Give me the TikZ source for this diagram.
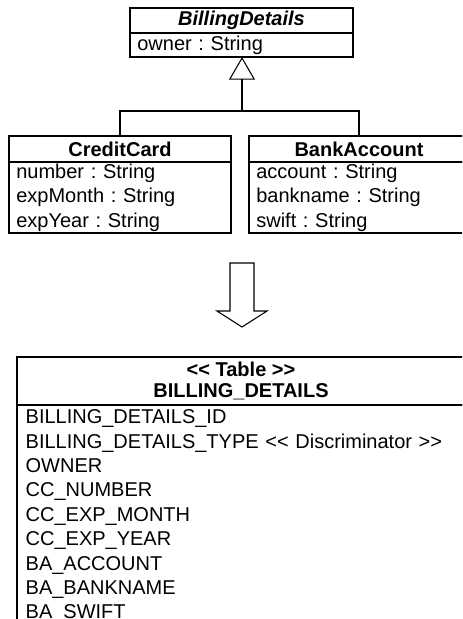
\documentclass[tikz,border=0pt]{standalone}
\usepackage{fontspec}
\setmainfont{Liberation Sans}
\usetikzlibrary{positioning, arrows.meta}
\frenchspacing

\begin{document}
\begin{tikzpicture}[x=0.75pt, y=-0.75pt, line width=0.8pt,
    every node/.style = {outer sep=0pt, font=\fontsize{15}{18.3}\selectfont},
    class name/.style = {draw, inner sep=0pt, minimum height=19.5pt,
      font=\fontsize{15}{18.3}\selectfont\bfseries},
    class attr/.style = {draw, align=left, inner xsep=5.5pt, inner ysep=0pt},
  ]
  \useasboundingbox (0,0) rectangle (462,619);
  \clip (0,0) rectangle (462,619);

  % class diagram
  \node[class name, minimum width=167.25pt, minimum height=18.75pt,
    font=\fontsize{15}{18.3}\selectfont\bfseries\itshape] (bd) at (241.5,20.5) {BillingDetails};
  \node[class attr, text width=156.25pt, minimum height=18pt, below=0pt of bd] (bd-attr) {owner : String};

  \node[class name, minimum width=166.5pt] (cc) at (120,149) {CreditCard};
  \node[class attr, text width=155.5pt, minimum height=53.25pt, below=0pt of cc] (cc-attr)
    {number : String\\ expMonth : String\\ expYear : String};

  \node[class name, minimum width=165pt] (ba) at (359,149) {BankAccount};
  \node[class attr, text width=154pt, minimum height=53.25pt, below=0pt of ba] (ba-attr)
    {account : String\\ bankname : String\\ swift : String};

  \coordinate (fork) at (242,111);
  \draw (cc.north) |- (fork) -| (ba.north);
  \draw[line width=1.3pt, -{Triangle[open, line width=0.8pt, length=17pt, width=19.5pt]}]
    (fork) -- (fork |- bd-attr.south);

  % mapping arrow
  \coordinate (map tip) at (242,327);
  \draw[line join=miter] (map tip) -- ++(-25,-16) -- ++(13,0) -- ++(0,-48) -- ++(24,0)
    -- ++(0,48) -- ++(13,0) -- cycle;

  % table
  \node[draw, inner sep=0pt, minimum width=336pt, minimum height=36pt, align=center,
    font=\fontsize{15}{15.75}\selectfont\bfseries] (tbl) at (241,381)
    {<{}< Table >{}>\\ BILLING\_DETAILS};
  \node[class attr, inner xsep=6.5pt, inner ysep=3.5pt, text width=323pt, below=0pt of tbl] (tbl-cols)
    {BILLING\_DETAILS\_ID\\
     BILLING\_DETAILS\_TYPE <{}< Discriminator >{}>\\
     OWNER\\
     CC\_NUMBER\\
     CC\_EXP\_MONTH\\
     CC\_EXP\_YEAR\\
     BA\_ACCOUNT\\
     BA\_BANKNAME\\
     BA\_SWIFT};
\end{tikzpicture}
\end{document}
